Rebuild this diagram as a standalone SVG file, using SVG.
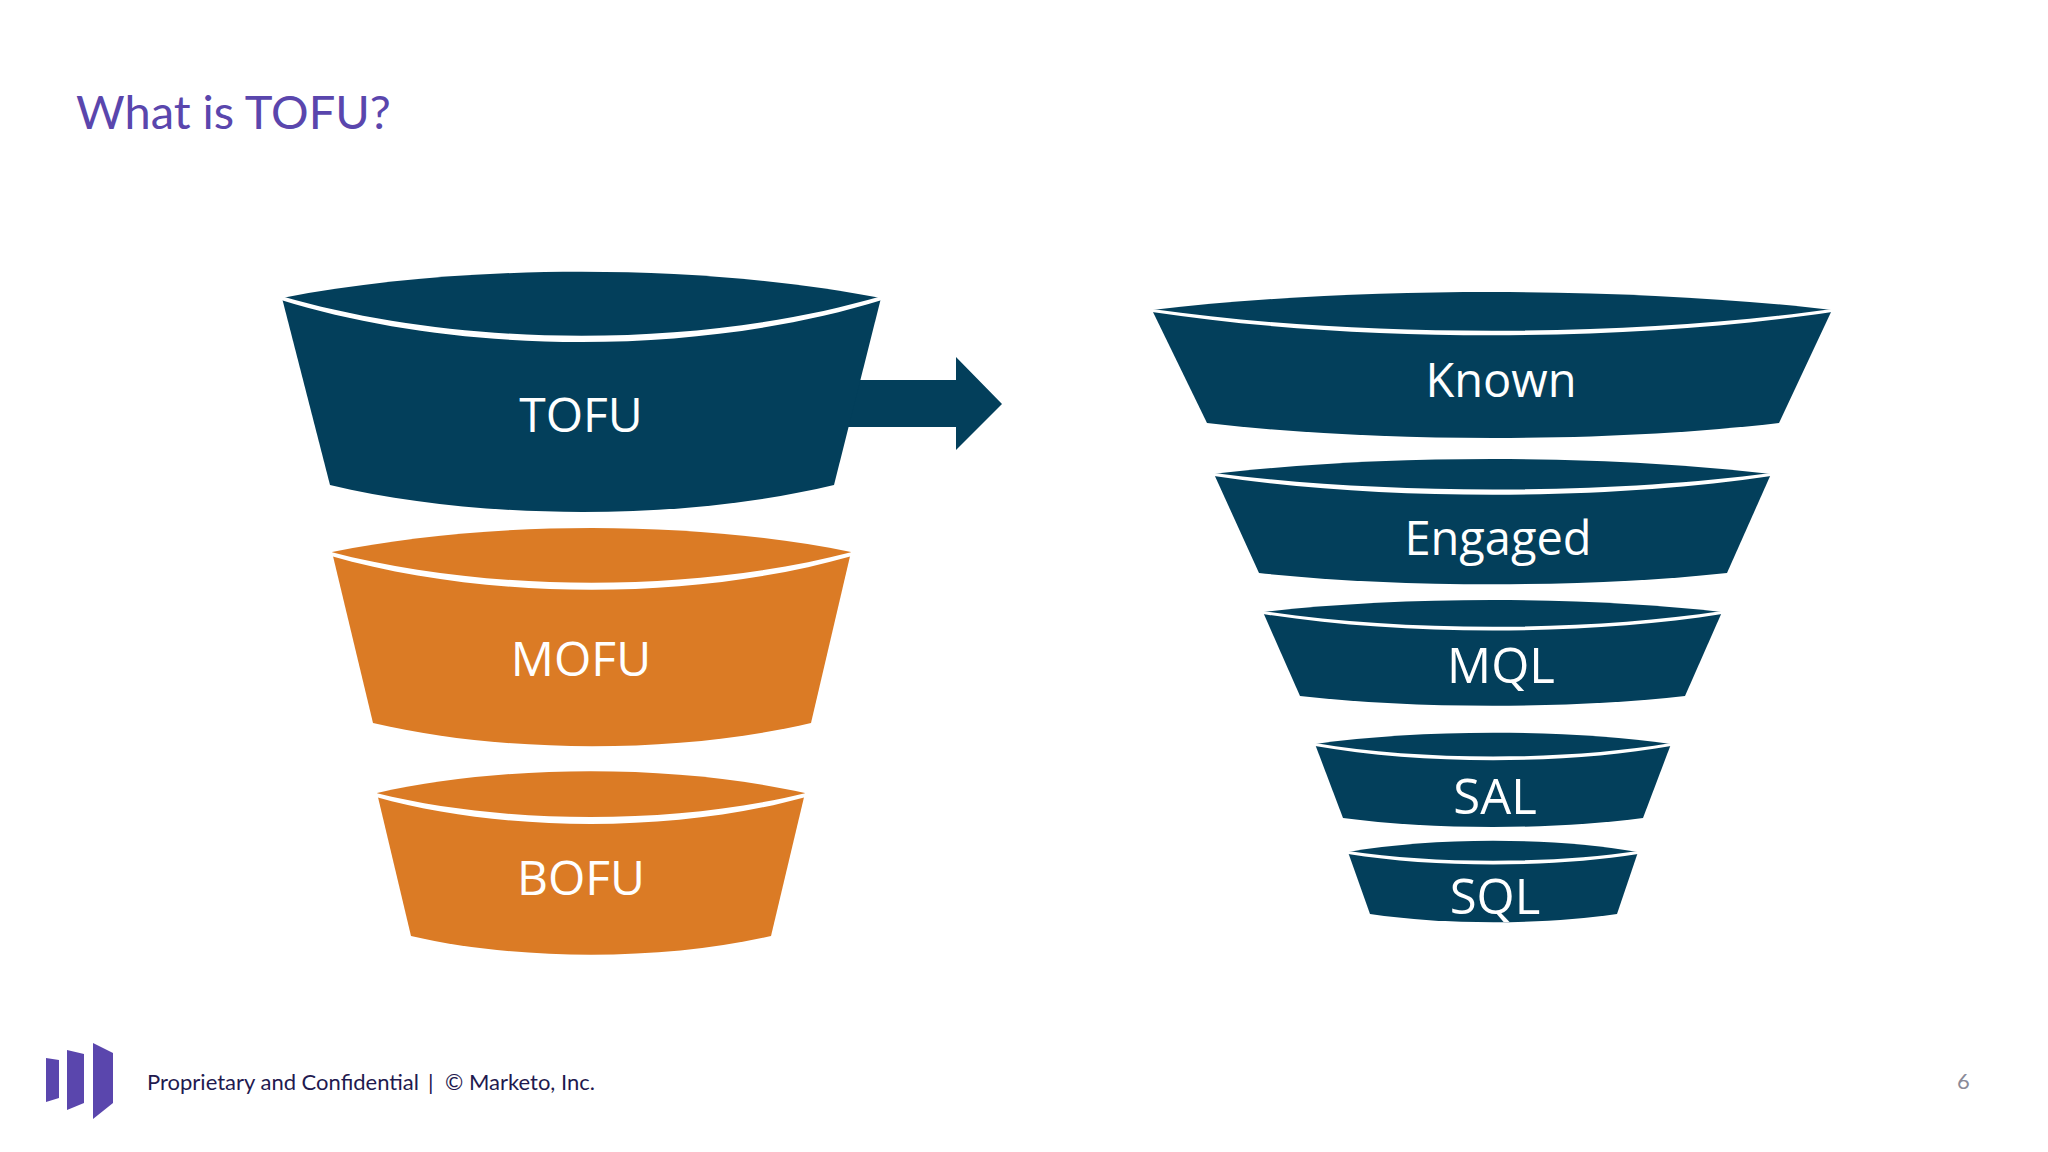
<svg xmlns="http://www.w3.org/2000/svg" width="2048" height="1152" viewBox="0 0 2048 1152">
<style>
.navy{fill:#033f5b}
.orange{fill:#db7b25}
.rim{fill:#fff}
.lbl{fill:#fff;font-family:"Open Sans","Noto Sans",sans-serif;text-anchor:middle}
.big{font-size:48px}
.mid{font-size:47px}
.lg{font-size:49px}
.title{fill:#5a46ad;font-family:Lato,"Noto Sans",sans-serif;font-size:47px}
.foot{fill:#1f1a4f;font-family:Lato,"Noto Sans",sans-serif;font-size:22px}
.num{fill:#8a8a98;font-family:Lato,"Noto Sans",sans-serif;font-size:22px}
.logo{fill:#5a46ad}
</style>
<rect width="2048" height="1152" fill="#fff"/>
<text id="title" class="title" x="76" y="129">What is TOFU?</text>
<g id="connectors">
<polygon class="navy" points="846,380 956,380 956,357 1002,404 956,450 956,427 846,427"/>
</g>
<g id="tofu">
<path class="navy" d="M282 298C462 263 701 263 881 298L834 485C684 521 481 521 330 485Z"/>
<path class="rim" d="M281 296C462 349 701 349 882 296L882 300C701 356 462 356 281 300Z"/>
<text class="lbl big" x="581" y="432">TOFU</text>
</g>
<g id="mofu">
<path class="orange" d="M332 552C488 520 695 520 851 552L811 723C680 754 504 754 373 723Z"/>
<path class="rim" d="M331 552C488 593 695 593 852 552L852 556C695 601 488 601 331 556Z"/>
<text class="lbl big" x="581" y="676">MOFU</text>
</g>
<g id="bofu">
<path class="orange" d="M377 793C505 764 676 764 805 793L771 936C663 961 519 961 411 936Z"/>
<path class="rim" d="M376 793C505 825 676 825 806 793L806 797C676 833 505 833 376 797Z"/>
<text class="lbl big" x="581" y="895">BOFU</text>
</g>
<g id="known">
<path class="navy" d="M1152 310C1356 286 1628 286 1832 310L1779 423C1607 443 1379 443 1207 423Z"/>
<path class="rim" d="M1152 309C1356 338 1628 338 1832 309L1832 312C1628 343 1356 343 1152 312Z"/>
<text class="lbl mid" x="1501" y="397">Known</text>
</g>
<g id="engaged">
<path class="navy" d="M1214 474C1381 454 1604 454 1771 474L1727 573C1587 588 1399 588 1259 573Z"/>
<path class="rim" d="M1214 473C1381 495 1604 495 1771 473L1771 476C1604 501 1381 501 1214 476Z"/>
<text class="lbl mid" x="1498" y="555">Engaged</text>
</g>
<g id="mql">
<path class="navy" d="M1263 612C1401 596 1584 596 1722 612L1685 696C1570 709 1415 709 1300 696Z"/>
<path class="rim" d="M1263 611C1401 632 1584 632 1722 611L1722 614C1584 636 1401 636 1263 614Z"/>
<text class="lbl lg" x="1501" y="683">MQL</text>
</g>
<g id="sal">
<path class="navy" d="M1315 744C1422 729 1564 729 1671 744L1643 818C1553 830 1433 830 1343 818Z"/>
<path class="rim" d="M1315 743C1422 761 1564 761 1671 743L1671 746C1564 765 1422 765 1315 746Z"/>
<text class="lbl lg" x="1495" y="814">SAL</text>
</g>
<g id="sql">
<path class="navy" d="M1348 852C1435 837 1551 837 1638 852L1617 914C1543 925 1444 925 1370 914Z"/>
<path class="rim" d="M1348 851C1435 864 1551 864 1638 851L1638 854C1551 868 1435 868 1348 854Z"/>
<text class="lbl lg" x="1495" y="914">SQL</text>
</g>
<g id="logo">
<polygon class="logo" points="46,1058 59,1060 59,1098 46,1102"/>
<polygon class="logo" points="67,1050 84,1054 84,1103 67,1110"/>
<polygon class="logo" points="93,1043 113,1053 113,1103 93,1119"/>
</g>
<text id="footer" class="foot" x="147" y="1090">Proprietary and Confidential<tspan x="428">|</tspan><tspan x="445">© Marketo, Inc.</tspan></text>
<text id="page" class="num" x="1957" y="1089">6</text>
</svg>
